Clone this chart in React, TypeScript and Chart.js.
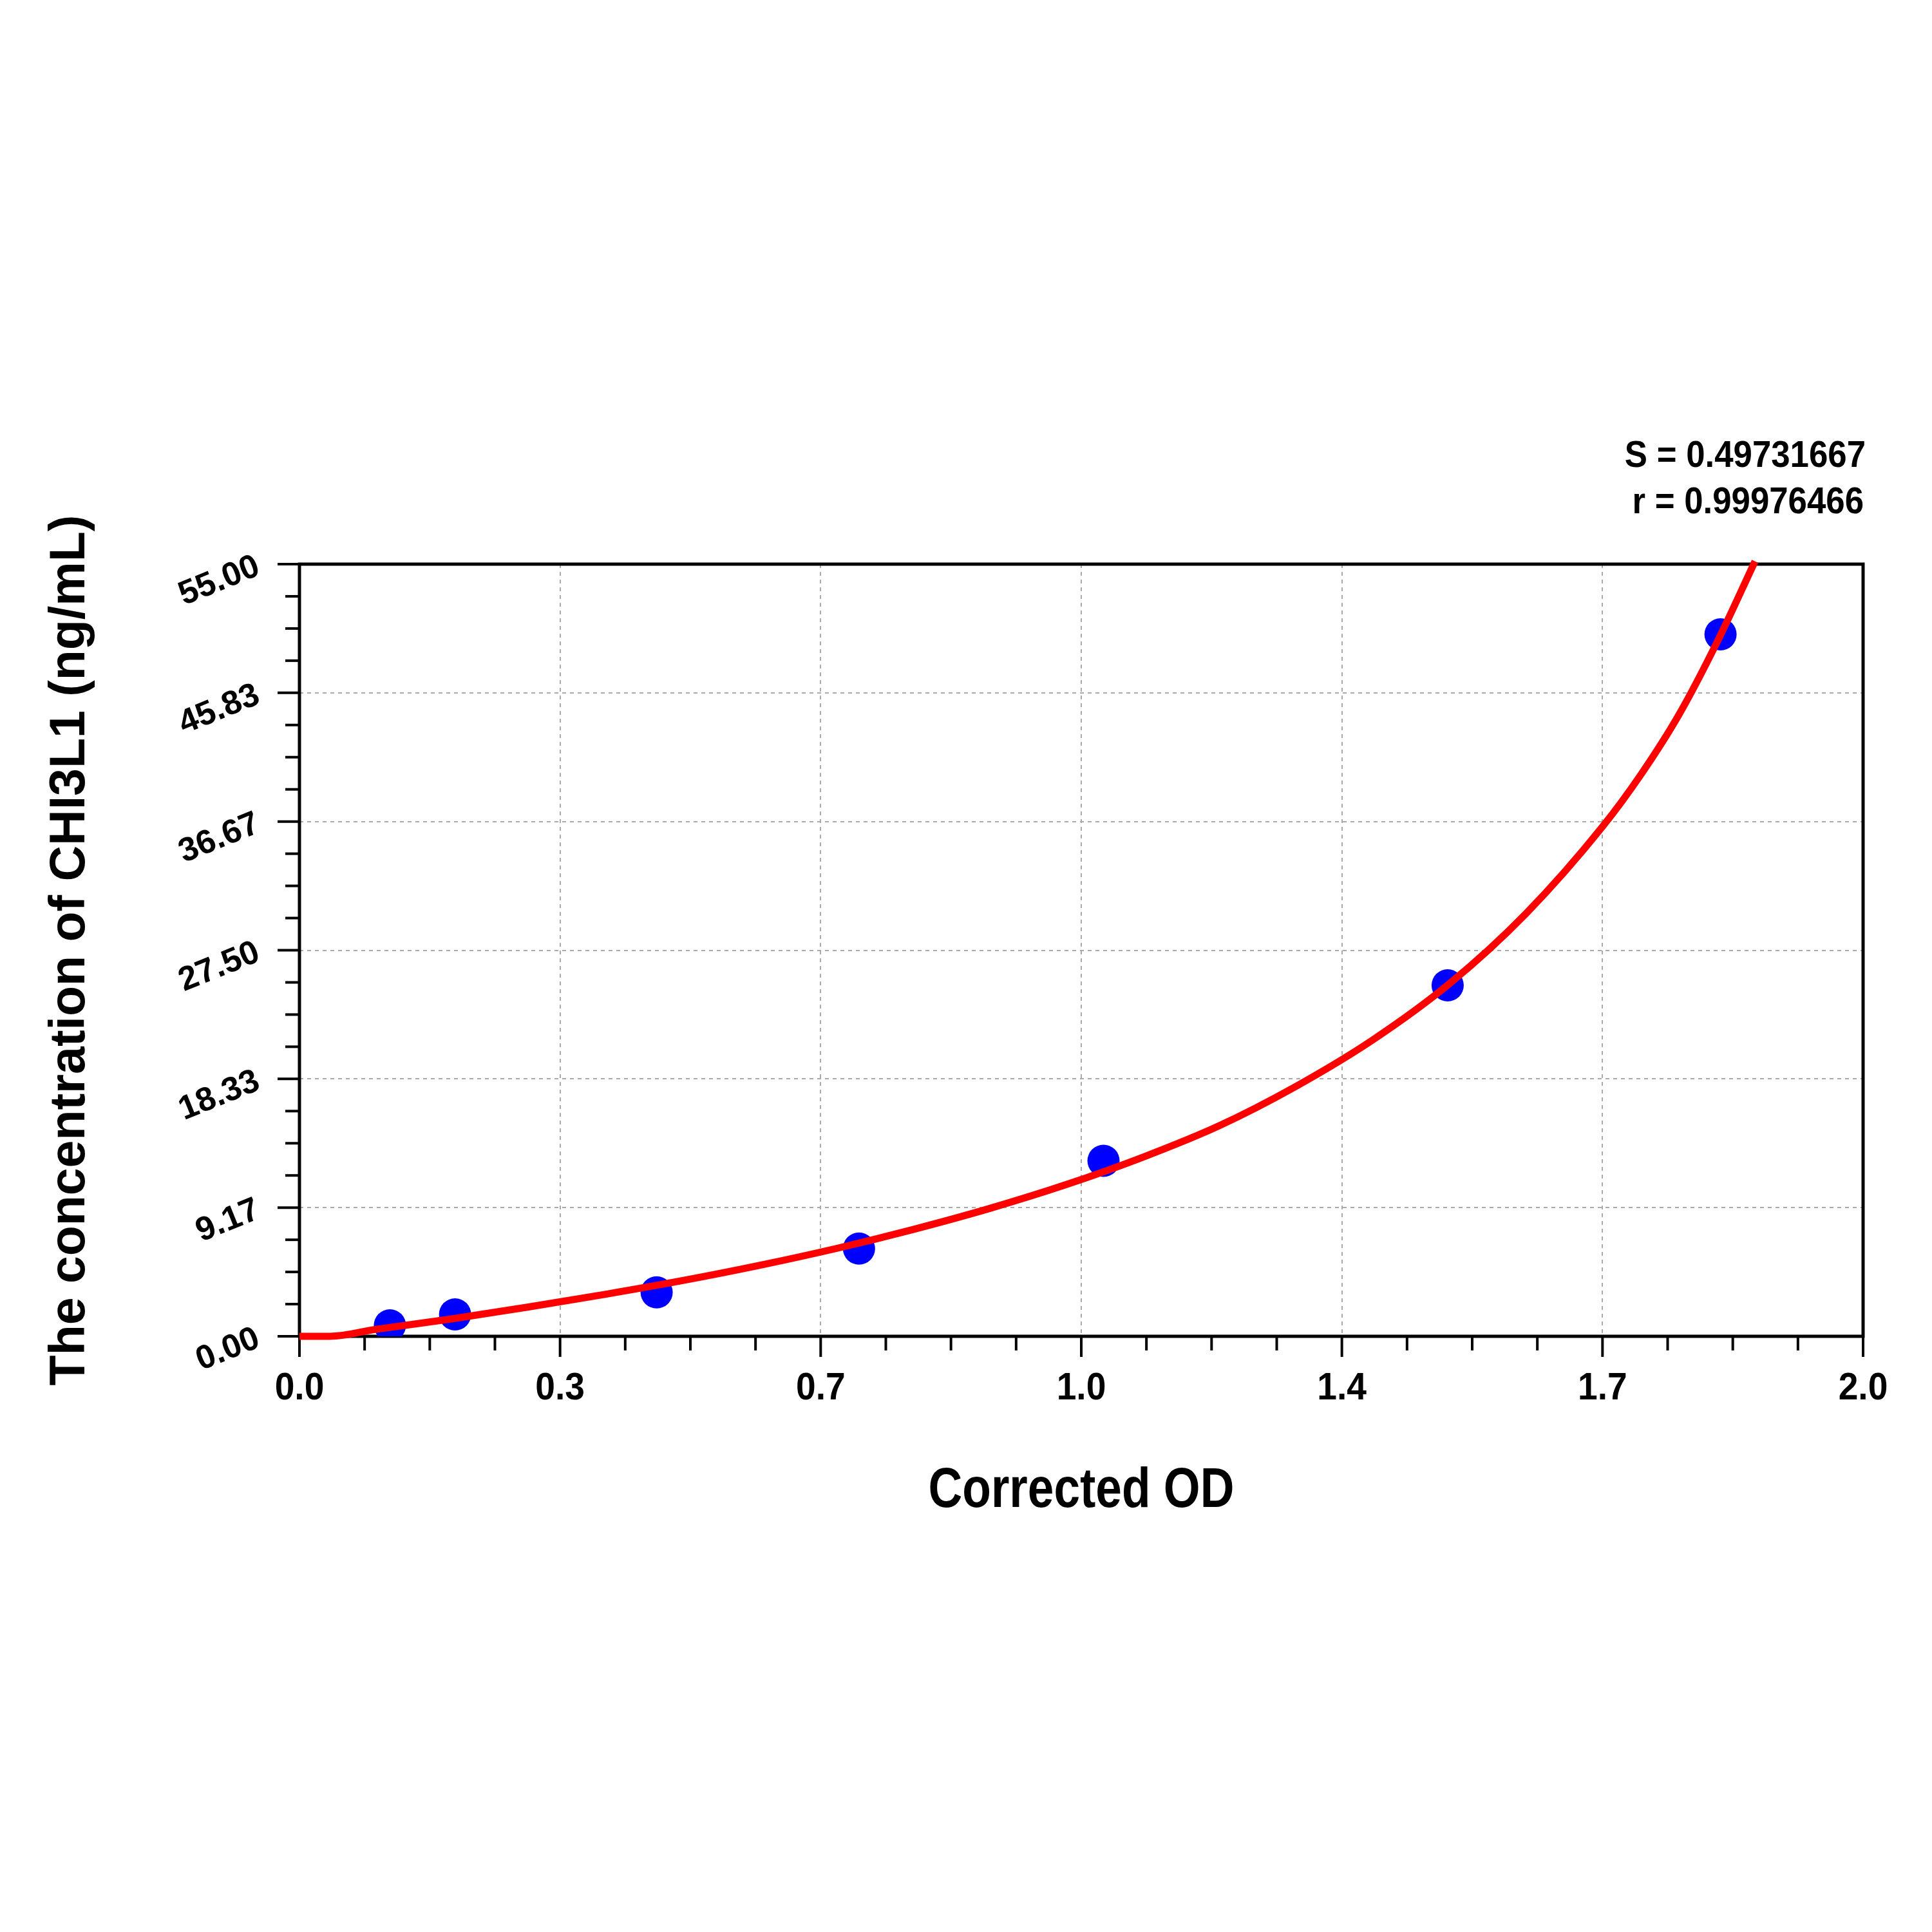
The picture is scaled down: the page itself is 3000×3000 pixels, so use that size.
import React, { useEffect, useRef } from "react";
import { Chart, registerables } from "chart.js";

Chart.register(...registerables);

// standards: measured OD vs known concentration
const odValues = [0.118, 0.203, 0.466, 0.73, 1.049, 1.498, 1.854];
const concentrations = [0.78, 1.56, 3.13, 6.25, 12.5, 25, 50];

// fitted curve
const curveOd = [
  0, 0.04, 0.1, 0.2, 0.3, 0.4, 0.5, 0.6, 0.7, 0.8, 0.9, 1.0, 1.1, 1.2, 1.3,
  1.4, 1.5, 1.6, 1.7, 1.75, 1.8, 1.85, 1.899,
];
const curveConc = [
  0, 0, 0.5, 1.25, 2.1, 3.0, 3.97, 5.05, 6.25, 7.6, 9.1, 10.8, 12.75, 15.0,
  17.8, 21.1, 25.1, 30.1, 36.3, 40.0, 44.3, 49.5, 55.2,
];

const xTicks = [0, 0.34, 0.68, 1.02, 1.36, 1.7, 2.04];
const xTickLabels = ["0.0", "0.3", "0.7", "1.0", "1.4", "1.7", "2.0"];
const yTicks = [0, 9.1667, 18.3333, 27.5, 36.6667, 45.8333, 55];
const yTickLabels = ["0.00", "9.17", "18.33", "27.50", "36.67", "45.83", "55.00"];

const fitStats = ["S = 0.49731667", "r = 0.99976466"];
const xTitle = "Corrected OD";
const yTitle = "The concentration of CHI3L1 (ng/mL)";

const FONT = '"Liberation Sans", Arial, sans-serif';

function squeezedText(
  ctx: CanvasRenderingContext2D,
  text: string,
  x: number,
  y: number,
  size: number,
  align: CanvasTextAlign,
  sx: number
) {
  ctx.save();
  ctx.translate(x, y);
  ctx.scale(sx, 1);
  ctx.font = `bold ${size}px ${FONT}`;
  ctx.textAlign = align;
  ctx.textBaseline = "alphabetic";
  ctx.fillText(text, 0, 0);
  ctx.restore();
}

const decor = {
  id: "decor",
  beforeDatasetsDraw(chart: any) {
    const { ctx, chartArea: a, scales } = chart;
    const xs = scales.x;
    const ys = scales.y;
    ctx.save();
    ctx.fillStyle = "#000";
    ctx.strokeStyle = "#000";

    // frame
    ctx.lineWidth = 5;
    ctx.strokeRect(a.left, a.top, a.right - a.left, a.bottom - a.top);

    // tick marks
    ctx.lineWidth = 4;
    const seg = (x1: number, y1: number, x2: number, y2: number) => {
      ctx.beginPath();
      ctx.moveTo(x1, y1);
      ctx.lineTo(x2, y2);
      ctx.stroke();
    };
    xTicks.forEach((v, i) => {
      const px = xs.getPixelForValue(v);
      seg(px, a.bottom, px, a.bottom + 32);
      if (i < xTicks.length - 1) {
        for (let k = 1; k < 4; k++) {
          const m = xs.getPixelForValue(v + ((xTicks[i + 1] - v) * k) / 4);
          seg(m, a.bottom, m, a.bottom + 22);
        }
      }
    });
    yTicks.forEach((v, i) => {
      const py = ys.getPixelForValue(v);
      seg(a.left, py, a.left - 34, py);
      if (i < yTicks.length - 1) {
        for (let k = 1; k < 4; k++) {
          const m = ys.getPixelForValue(v + ((yTicks[i + 1] - v) * k) / 4);
          seg(a.left, m, a.left - 22, m);
        }
      }
    });

    // x tick labels
    xTicks.forEach((v, i) => {
      squeezedText(ctx, xTickLabels[i], xs.getPixelForValue(v), a.bottom + 98, 60, "center", 0.92);
    });

    // y tick labels, slanted
    ctx.font = `bold 52px ${FONT}`;
    ctx.textAlign = "right";
    ctx.textBaseline = "middle";
    yTicks.forEach((v, i) => {
      ctx.save();
      ctx.translate(a.left - 64, ys.getPixelForValue(v) + 2);
      ctx.rotate((-22 * Math.PI) / 180);
      ctx.fillText(yTickLabels[i], 0, 0);
      ctx.restore();
    });

    // axis titles
    squeezedText(ctx, xTitle, (a.left + a.right) / 2, a.bottom + 265, 88, "center", 0.83);
    ctx.save();
    ctx.translate(110, (a.top + a.bottom) / 2);
    ctx.rotate(-Math.PI / 2);
    ctx.font = `bold 77px ${FONT}`;
    ctx.textAlign = "center";
    ctx.textBaseline = "middle";
    ctx.fillText(yTitle, 0, 0);
    ctx.restore();

    // fit statistics
    squeezedText(ctx, fitStats[0], a.right + 4, a.top - 151, 58, "right", 0.91);
    squeezedText(ctx, fitStats[1], a.right + 1, a.top - 79, 58, "right", 0.91);

    ctx.restore();
  },
};

export default function App() {
  const chartRef = useRef<HTMLCanvasElement>(null);

  useEffect(() => {
    if (!chartRef.current) return;
    const chart = new Chart(chartRef.current, {
      type: "scatter",
      data: {
        datasets: [
          {
            label: "Fit",
            data: curveOd.map((x, i) => ({ x, y: curveConc[i] })),
            showLine: true,
            borderColor: "#ff0000",
            borderWidth: 11,
            pointRadius: 0,
            cubicInterpolationMode: "monotone",
            clip: false,
            order: 0,
          },
          {
            label: "Standards",
            data: odValues.map((x, i) => ({ x, y: concentrations[i] })),
            showLine: false,
            backgroundColor: "#0000ff",
            borderWidth: 0,
            pointRadius: 25,
            order: 1,
          },
        ],
      },
      options: {
        animation: false,
        responsive: true,
        maintainAspectRatio: false,
        devicePixelRatio: 1,
        layout: { padding: { left: 465, top: 876, right: 107, bottom: 925 } },
        plugins: {
          legend: { display: false },
          tooltip: { enabled: false },
        },
        scales: {
          x: {
            type: "linear",
            min: 0,
            max: 2.04,
            afterBuildTicks: (s: any) => {
              s.ticks = xTicks.map((value) => ({ value }));
            },
            ticks: { display: false },
            grid: { color: "#aaaaaa", lineWidth: 2, drawTicks: false },
            border: { display: false, dash: [6, 6] },
          },
          y: {
            type: "linear",
            min: 0,
            max: 55,
            afterBuildTicks: (s: any) => {
              s.ticks = yTicks.map((value) => ({ value }));
            },
            ticks: { display: false },
            grid: { color: "#aaaaaa", lineWidth: 2, drawTicks: false },
            border: { display: false, dash: [6, 6] },
          },
        },
      },
      plugins: [decor],
    });
    return () => {
      chart.destroy();
    };
  }, []);

  return (
    <div style={{ position: "absolute", left: 0, top: 0, width: 3000, height: 3000, background: "#fff" }}>
      <canvas ref={chartRef} />
    </div>
  );
}
